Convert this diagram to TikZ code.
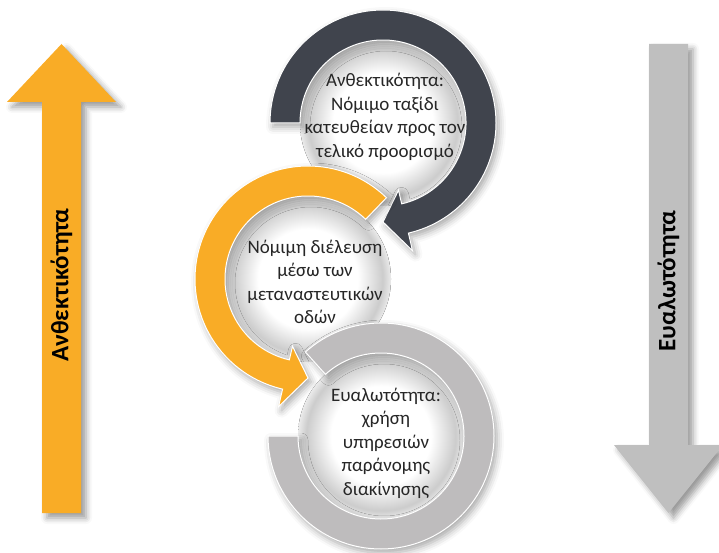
\documentclass[tikz,border=0pt]{standalone}
\usepackage{fontspec}
\setmainfont{Carlito}
\usetikzlibrary{calc, shadows.blur}

\definecolor{cycleOrange}{RGB}{249,172,38}
\definecolor{cycleDark}{RGB}{64,68,77}
\definecolor{cycleGray}{RGB}{190,188,189}
\definecolor{arrowGray}{RGB}{191,191,191}

\pgfdeclareradialshading{diskshade}{\pgfpoint{0bp}{0bp}}{color(0bp)=(white); color(15bp)=(white); color(22.5bp)=(black!20); color(25bp)=(black!8); color(50bp)=(white)}

\tikzset{
  ringpath/.style={draw=white, line width=1pt, blur shadow={shadow xshift=3pt, shadow yshift=-4pt, shadow blur radius=7pt, shadow opacity=35}},
  innerdisk/.style={shading=diskshade},
  ringtext/.style={text=black!85, align=center, font=\fontsize{19}{23.5}\selectfont},
  bigarrow/.style={draw=none, blur shadow={shadow xshift=5pt, shadow yshift=-5pt, shadow blur radius=6pt, shadow opacity=40}},
  arrowlabel/.style={text=black, rotate=90, font=\fontsize{25}{30}\selectfont\bfseries}
}

\begin{document}
\begin{tikzpicture}[x=1pt, y=1pt]
\useasboundingbox (0,0) rectangle (719,552);

\draw[bigarrow, fill=cycleOrange] (42,39) -- (42,450) -- (7,450) -- (61.5,508) -- (116,450) -- (81,450) -- (81,39) -- cycle;
\node[arrowlabel] at (61.5,267) (resLabel) {Ανθεκτικότητα};

\draw[bigarrow, fill=arrowGray] (649,508) -- (649,107) -- (614,107) -- (668.5,39) -- (723,107) -- (688,107) -- (688,508) -- cycle;
\node[arrowlabel] at (668.5,271) (vulLabel) {Ευαλωτότητα};

\coordinate (resC) at (383,429);
\coordinate (legC) at (308,273);
\coordinate (vulC) at (381,116);

\fill[innerdisk] (resC) circle (83);
\draw[ringpath, fill=cycleDark] ($(resC)+(180:113)$) arc[start angle=180, end angle=-77, radius=113]
  -- ($(resC)+(-77:131)$) -- ($(resC)+(-90:99)$) -- ($(resC)+(-77:69)$) -- ($(resC)+(-77:83)$)
  arc[start angle=-77, end angle=180, radius=83] -- cycle;
\node[ringtext] at (385,435) (resText) {Ανθεκτικότητα:\\Νόμιμο ταξίδι\\κατευθείαν προς τον\\τελικό προορισμό};

\fill[innerdisk] (legC) circle (83);
\draw[ringpath, fill=cycleOrange] ($(legC)+(46:113)$) arc[start angle=46, end angle=257, radius=113]
  -- ($(legC)+(257:131)$) -- ($(legC)+(270:99)$) -- ($(legC)+(257:69)$) -- ($(legC)+(257:83)$)
  arc[start angle=257, end angle=46, radius=83] -- cycle;
\node[ringtext] at (315,270) (legText) {Νόμιμη διέλευση\\μέσω των\\μεταναστευτικών\\οδών};

\fill[innerdisk] (vulC) circle (83);
\draw[ringpath, fill=cycleGray] ($(vulC)+(180:113)$) arc[start angle=180, end angle=492, radius=113]
  -- ($(vulC)+(132:83)$) arc[start angle=132, end angle=-180, radius=83] -- cycle;
\node[ringtext] at (386,109) (vulText) {Ευαλωτότητα:\\χρήση\\υπηρεσιών\\παράνομης\\διακίνησης};

\end{tikzpicture}
\end{document}
